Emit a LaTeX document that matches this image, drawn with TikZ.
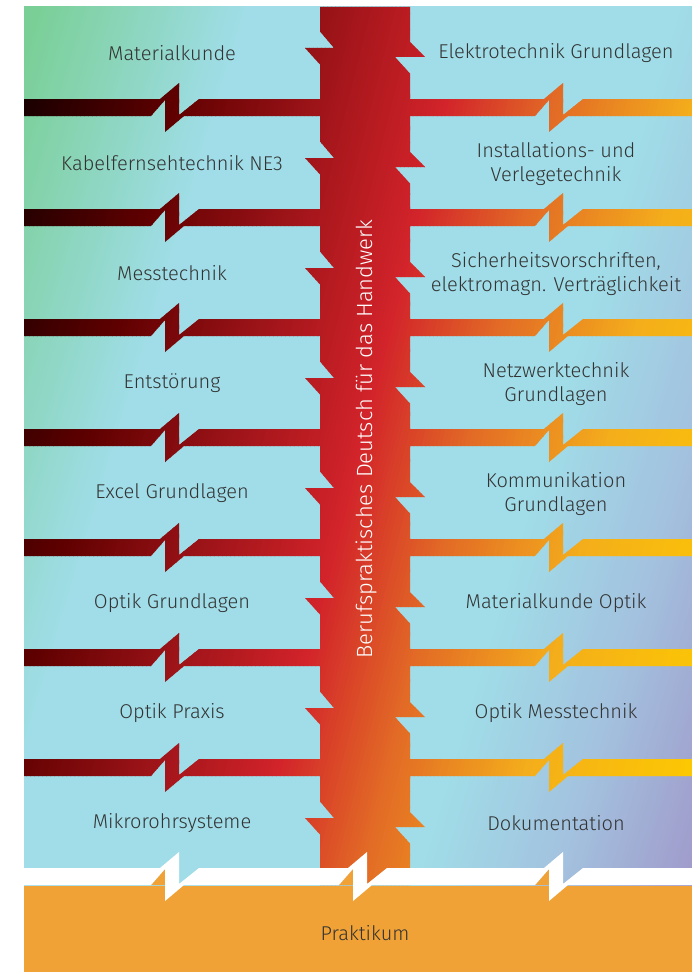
\documentclass[tikz,border=0pt]{standalone}
\usepackage{fontspec}
\IfFontExistsTF{Fira Sans Light}{\setmainfont{Fira Sans Light}}{\setmainfont{Fira Sans}}

\definecolor{bgGreen}{HTML}{7ACF96}
\definecolor{bgBlue}{HTML}{A0DDE8}
\definecolor{bgLav}{HTML}{A3C2DF}
\definecolor{bgPurple}{HTML}{9F8EC4}
\definecolor{barA}{HTML}{100000}
\definecolor{barB}{HTML}{1A0000}
\definecolor{barC}{HTML}{600000}
\definecolor{barD}{HTML}{9E1419}
\definecolor{barE}{HTML}{D2232A}
\definecolor{barF}{HTML}{E26A26}
\definecolor{barG}{HTML}{F4AE1B}
\definecolor{barH}{HTML}{FDCA00}
\definecolor{prakOrange}{HTML}{F0A236}
\definecolor{txtGray}{HTML}{333333}

% zigzag break of a bar, top and bottom edge
\newcommand{\bolttop}[2]{-- ({#1-12},{#2}) -- ({#1+7},{#2-16}) -- ({#1+7},{#2+16}) -- ({#1+27},{#2})}
\newcommand{\boltbot}[2]{-- ({#1+12},{#2+17}) -- ({#1-7},{#2+33}) -- ({#1-7},{#2+1}) -- ({#1-21},{#2+17})}
\newcommand{\barrow}[1]{(24,#1) \bolttop{172}{#1} \bolttop{556}{#1} -- (692,#1) -- (692,{#1+17})
  \boltbot{556}{#1} \boltbot{172}{#1} -- (24,{#1+17}) -- cycle}
\newcommand{\spinepath}{(320,7) -- (410,7)
  \foreach \j in {0,...,7}{ -- (410,{42+110*\j}) -- (425,{57+110*\j}) -- (395,{57+110*\j}) -- (410,{73.5+110*\j})}
  -- (410,885) -- (320,885)
  \foreach \j in {7,6,...,0}{ -- (320,{64.5+110*\j}) -- (305,{48+110*\j}) -- (334,{48+110*\j}) -- (320,{31.5+110*\j})}
  -- cycle}
% slanted colour run made of thin strips
\newcommand{\slantfill}[2]{%
  \foreach \va/\vb/\ca/\cb in {#2}{
    \pgfmathtruncatemacro\n{max(1,round((\vb-\va)/4))}
    \pgfmathsetmacro\dv{(\vb-\va)/\n}
    \foreach \i in {1,...,\n}{
      \pgfmathtruncatemacro\p{round(100*(\i-0.5)/\n)}
      \fill[\cb!\p!\ca] ({\va+(\i-1)*\dv},0) -- ({\va+\i*\dv+0.8},0)
        -- ({\va+\i*\dv+0.8-#1*974},974) -- ({\va+(\i-1)*\dv-#1*974},974) -- cycle;
    }
  }}

\begin{document}
\begin{tikzpicture}[x=1pt, y=-1pt,
  lbl/.style={font=\fontsize{20}{24}\selectfont, text=txtGray, align=center, inner sep=0pt},
  spinelbl/.style={font=\fontsize{22}{26}\selectfont, text=white, rotate=90, inner sep=0pt}]
\useasboundingbox (0,0) rectangle (692,974);

% Praktikum block
\fill[prakOrange] (24,885) rectangle (692,972);

% background panel
\begin{scope}
\clip (24,7) rectangle (692,885);
\slantfill{0.3}{0/40/bgGreen/bgGreen, 40/250/bgGreen/bgBlue, 250/680/bgBlue/bgBlue,
  680/820/bgBlue/bgLav, 820/1000/bgLav/bgPurple}
\end{scope}

% bars and spine
\begin{scope}
\clip \foreach \ty in {99,209,...,759}{\barrow{\ty}} \spinepath;
\slantfill{0.25}{0/50/barA/barB, 50/200/barB/barC, 200/345/barC/barD, 345/470/barD/barE,
  470/580/barE/barF, 580/720/barF/barG, 720/900/barG/barH, 900/980/barH/barH}
\end{scope}

% white gap above Praktikum
\foreach \cx in {172,360,556}{
  \fill[prakOrange] ({\cx-21},885) -- ({\cx-7},869) -- ({\cx-7},885) -- cycle;
}
\fill[white] (24,868) \bolttop{172}{868} \bolttop{360}{868} \bolttop{556}{868} -- (692,868) -- (692,885)
  \boltbot{556}{868} \boltbot{360}{868} \boltbot{172}{868} -- (24,885) -- cycle;

% left column
\node[lbl] (mk) at (172,53) {Materialkunde};
\node[lbl] (kf) at (172,163) {Kabelfernsehtechnik NE3};
\node[lbl] (mt) at (172,273) {Messtechnik};
\node[lbl] (es) at (172,383) {Entstörung};
\node[lbl] (ex) at (172,493) {Excel Grundlagen};
\node[lbl] (og) at (172,603) {Optik Grundlagen};
\node[lbl] (op) at (172,713) {Optik Praxis};
\node[lbl] (mr) at (172,823) {Mikrorohrsysteme};

% right column
\node[lbl] (eg) at (556,53) {Elektrotechnik Grundlagen};
\node[lbl] (iv) at (556,164) {Installations- und\\Verlegetechnik};
\node[lbl] (sv) at (556,274) {Sicherheitsvorschriften,\\elektromagn. Verträglichkeit};
\node[lbl] (nw) at (556,384) {Netzwerktechnik\\Grundlagen};
\node[lbl] (ko) at (556,494) {Kommunikation\\Grundlagen};
\node[lbl] (mo) at (556,603) {Materialkunde Optik};
\node[lbl] (om) at (556,713) {Optik Messtechnik};
\node[lbl] (dk) at (556,823) {Dokumentation};

% spine and bottom
\node[spinelbl] (title) at (366,439) {Berufspraktisches Deutsch für das Handwerk};
\node[lbl] (pr) at (365,933) {Praktikum};
\end{tikzpicture}
\end{document}
